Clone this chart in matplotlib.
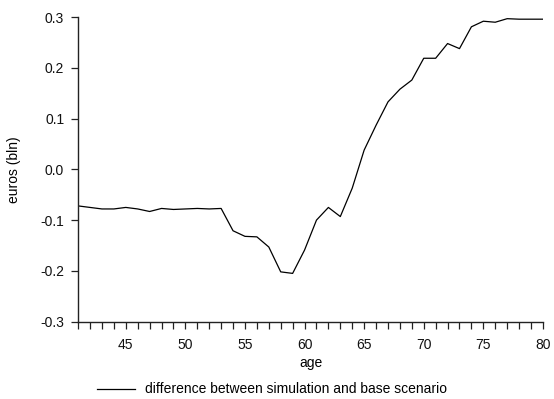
import matplotlib
matplotlib.use("Agg")
import matplotlib.pyplot as plt

plt.rcParams['font.family'] = ['Liberation Sans', 'DejaVu Sans']

age = list(range(41, 81))
diff = [-0.072, -0.075, -0.078, -0.078, -0.075, -0.078, -0.083, -0.077, -0.079, -0.078,
        -0.077, -0.078, -0.077, -0.121, -0.132, -0.133, -0.153, -0.202, -0.205, -0.159,
        -0.100, -0.075, -0.093, -0.037, 0.038, 0.087, 0.133, 0.158, 0.176, 0.219,
        0.219, 0.248, 0.238, 0.281, 0.292, 0.290, 0.297, 0.296, 0.296, 0.296]

yticks = [-0.3, -0.2, -0.1, 0.0, 0.1, 0.2, 0.3]
xticks = [45, 50, 55, 60, 65, 70, 75, 80]

fig = plt.figure(figsize=(5.54, 3.99), dpi=100)
ax = fig.add_axes([0.141, 0.194, 0.839, 0.763])

line, = ax.plot(age, diff, color='black', lw=0.9)

ax.set_xlim(41, 80)
ax.set_ylim(-0.3, 0.3)
ax.set_xticks(xticks)
ax.set_xticks(age, minor=True)
ax.set_yticks(yticks)
ax.set_yticklabels(['%.1f' % v for v in yticks])

for s in ['top', 'right']:
    ax.spines[s].set_visible(False)
for s in ['left', 'bottom']:
    ax.spines[s].set_linewidth(1.0)
    ax.spines[s].set_color('#222222')

ax.tick_params(axis='both', which='both', direction='out', length=5, width=0.9,
               colors='#222222', labelsize=10, labelcolor='#111111')
ax.tick_params(axis='x', pad=7)
ax.tick_params(axis='y', pad=5)

ax.set_xlabel('age', fontsize=10, labelpad=3)
ax.set_ylabel('euros (bln)', fontsize=10, labelpad=14)

fig.legend([line], ['difference between simulation and base scenario'],
           loc='lower center', bbox_to_anchor=(0.491, -0.025), frameon=False,
           fontsize=10, handlelength=2.7, handletextpad=0.7)

fig.savefig('out.png', dpi=100)
